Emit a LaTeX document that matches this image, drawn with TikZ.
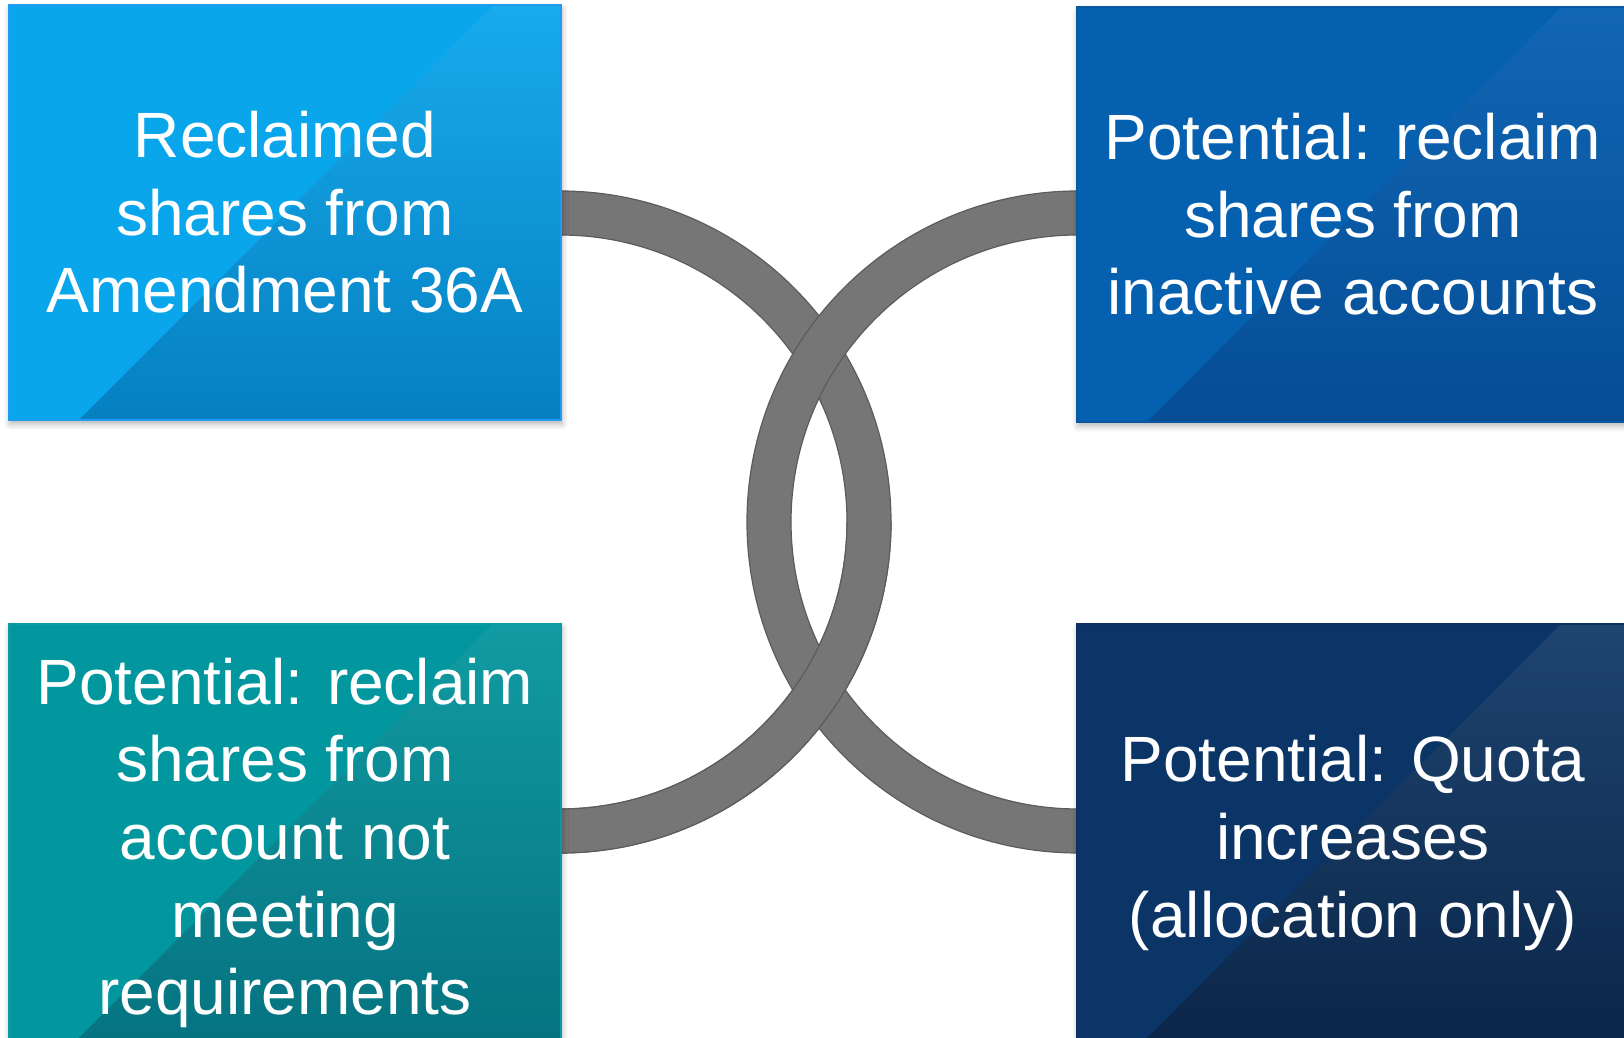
\documentclass[tikz,border=0pt]{standalone}
\usepackage{fontspec}
\setmainfont{Liberation Sans}
\usetikzlibrary{calc,shadows.blur}

% ring colours
\definecolor{ringfill}{HTML}{767676}
\definecolor{ringline}{HTML}{5C5C5C}
% panel colours: base, sheen top, sheen middle, sheen bottom, border
\definecolor{skyBase}{HTML}{0AA6EC}
\definecolor{skyTop}{HTML}{18ABEC}
\definecolor{skyMid}{HTML}{109EDF}
\definecolor{skyBot}{HTML}{0580C1}
\definecolor{skyEdge}{HTML}{1F9BF2}
\definecolor{royBase}{HTML}{0560B0}
\definecolor{royTop}{HTML}{1166B4}
\definecolor{royMid}{HTML}{0D5DA9}
\definecolor{royBot}{HTML}{054D95}
\definecolor{royEdge}{HTML}{0A58A2}
\definecolor{tealBase}{HTML}{02979E}
\definecolor{tealTop}{HTML}{119BA2}
\definecolor{tealMid}{HTML}{0C9098}
\definecolor{tealBot}{HTML}{05717F}
\definecolor{tealEdge}{HTML}{0A9CA3}
\definecolor{navyBase}{HTML}{0B3467}
\definecolor{navyTop}{HTML}{1E4470}
\definecolor{navyMid}{HTML}{183D68}
\definecolor{navyBot}{HTML}{0A2547}
\definecolor{navyEdge}{HTML}{0D3060}

\tikzset{
  sheen shift/.store in=\sheenshift, sheen shift=35pt,
  panel/.style n args={5}{
    rectangle, inner sep=0pt, minimum width=276pt, minimum height=207.5pt,
    fill=#1, draw=#5, line width=0.6pt, text=white, align=center,
    font=\fontsize{32}{38.8}\selectfont,
    blur shadow={shadow xshift=0.5pt, shadow yshift=-2pt,
      shadow blur radius=3pt, shadow blur steps=6, shadow opacity=30},
    path picture={
      % lower-right sheen, cut off by a 45 degree diagonal
      \begin{scope}
        \clip ($(path picture bounding box.south west)+(\sheenshift,0)$)
          -- ++(600pt,600pt) -- ++(600pt,0) -- ++(0,-700pt) -- cycle;
        \shade[top color=#2, middle color=#3, bottom color=#4]
          (path picture bounding box.south west)
          rectangle (path picture bounding box.north east);
      \end{scope}
    }
  },
  tall/.style={minimum height=219pt, sheen shift=23pt},
  bandfill/.style={fill=ringfill},
  bandedge/.style={draw=ringline, line width=0.6pt},
}

\begin{document}
\begin{tikzpicture}[x=0.5pt,y=0.5pt]
\useasboundingbox (0,0) rectangle (1624,1038);

% ring centres (on the inner edges of the panels)
\coordinate (lc) at (560,516);
\coordinate (rc) at (1078,516);

% left ring: right half of an annulus
\fill[bandfill] (540,847) -- (560,847) arc[start angle=90, end angle=-90, radius=331]
  -- (540,185) -- (540,229) -- (560,229) arc[start angle=-90, end angle=90, radius=287]
  -- (540,803) -- cycle;
\draw[bandedge] (560,847) arc[start angle=90, end angle=-90, radius=331];
\draw[bandedge] (560,229) arc[start angle=-90, end angle=90, radius=287];

% right ring: left half of an annulus, passing over at the upper crossing
\fill[bandfill] (1098,847) -- (1078,847) arc[start angle=90, end angle=270, radius=331]
  -- (1098,185) -- (1098,229) -- (1078,229) arc[start angle=270, end angle=90, radius=287]
  -- (1098,803) -- cycle;
\draw[bandedge] (1078,847) arc[start angle=90, end angle=270, radius=331];
\draw[bandedge] (1078,229) arc[start angle=270, end angle=90, radius=287];

% lower quarter of the left ring again, passing over at the lower crossing
\fill[bandfill] (891,516) arc[start angle=0, end angle=-90, radius=331]
  -- (560,229) arc[start angle=-90, end angle=0, radius=287] -- cycle;
\draw[bandedge] (891,516) arc[start angle=0, end angle=-90, radius=331];
\draw[bandedge] (847,516) arc[start angle=0, end angle=-90, radius=287];

% panels
\node[panel={skyBase}{skyTop}{skyMid}{skyBot}{skyEdge}] (tl) at (285,825.5)
  {Reclaimed\\shares from\\Amendment 36A};
\node[panel={royBase}{royTop}{royMid}{royBot}{royEdge}] (tr) at (1353,823.5)
  {Potential: reclaim\\shares from\\inactive accounts};
\node[panel={tealBase}{tealTop}{tealMid}{tealBot}{tealEdge}, tall] (bl) at (285,195)
  {Potential: reclaim\\shares from\\account not\\meeting\\requirements};
\node[panel={navyBase}{navyTop}{navyMid}{navyBot}{navyEdge}, tall] (br) at (1353,195)
  {Potential: Quota\\increases\\(allocation only)};
\end{tikzpicture}
\end{document}
